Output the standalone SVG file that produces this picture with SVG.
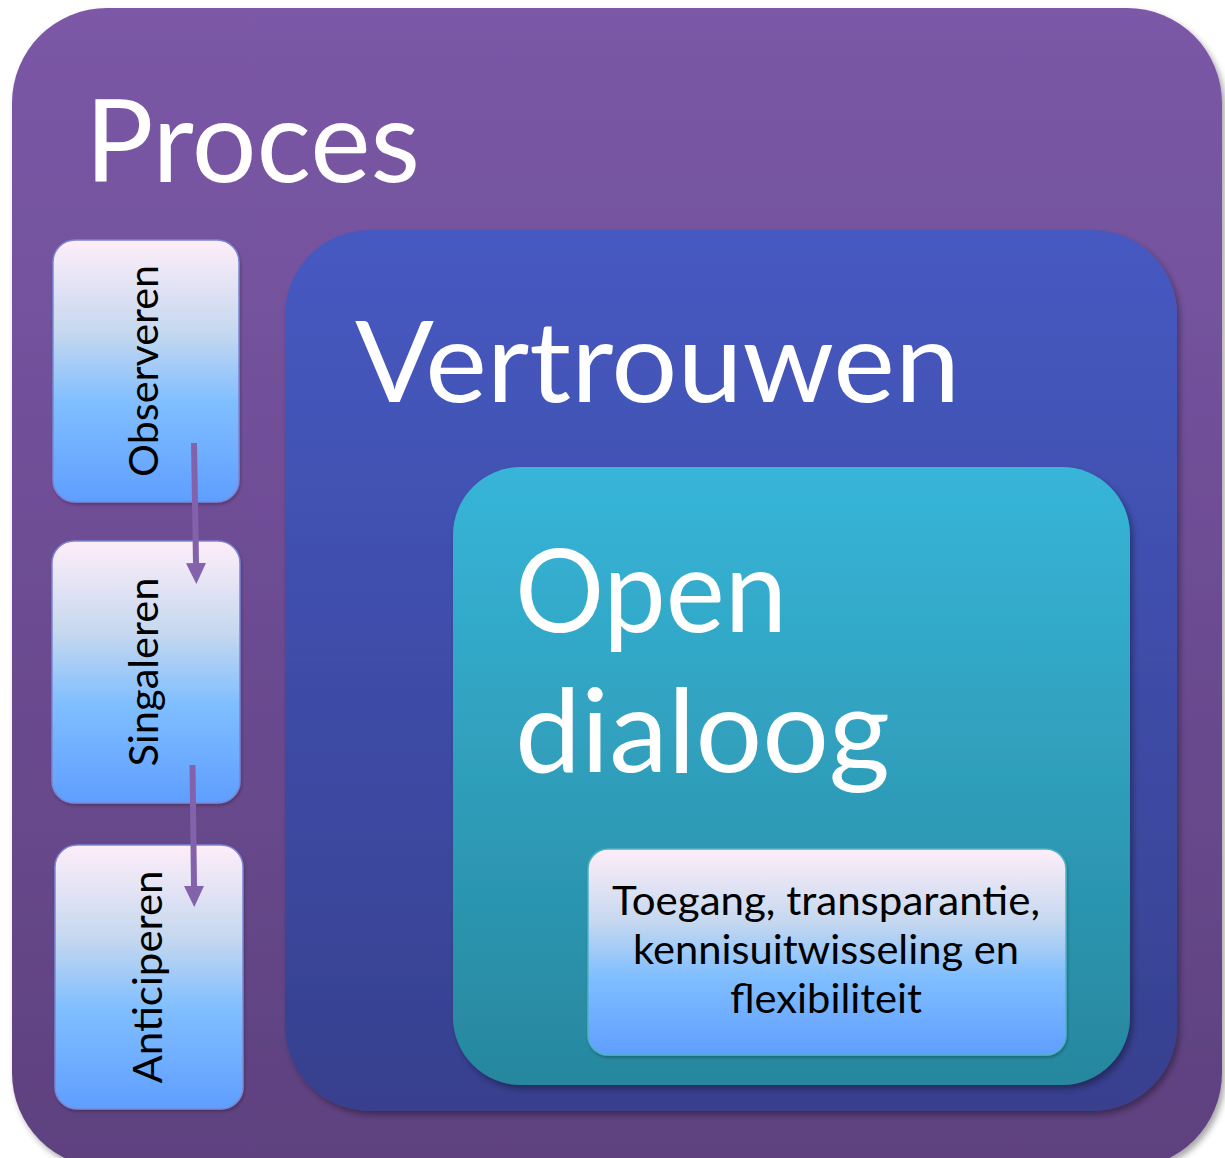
<svg xmlns="http://www.w3.org/2000/svg" width="1225" height="1158" viewBox="0 0 1225 1158">
<defs>
<linearGradient id="gOuter" x1="0" y1="0" x2="0" y2="1"><stop offset="0" stop-color="#7B58A7"/><stop offset="1" stop-color="#5E417F"/></linearGradient>
<linearGradient id="gTrust" x1="0" y1="0" x2="0" y2="1"><stop offset="0" stop-color="#4659C2"/><stop offset="1" stop-color="#37408E"/></linearGradient>
<linearGradient id="gOpen" x1="0" y1="0" x2="0" y2="1"><stop offset="0" stop-color="#37B5D8"/><stop offset="1" stop-color="#27879E"/></linearGradient>
<linearGradient id="gLight" x1="0" y1="0" x2="0" y2="1"><stop offset="0" stop-color="#FEEEF9"/><stop offset="0.35" stop-color="#C6D8EF"/><stop offset="0.62" stop-color="#80BEFF"/><stop offset="1" stop-color="#5F9EFF"/></linearGradient>
<filter id="sh" x="-5%" y="-5%" width="115%" height="115%"><feDropShadow dx="3" dy="4" stdDeviation="3" flood-color="#000" flood-opacity="0.35"/></filter>
<filter id="shs" x="-10%" y="-10%" width="130%" height="130%"><feDropShadow dx="1" dy="2" stdDeviation="1.5" flood-color="#000" flood-opacity="0.25"/></filter>
<marker id="arr" markerUnits="userSpaceOnUse" markerWidth="22" markerHeight="22" viewBox="0 0 22 22" refX="0" refY="11" orient="auto"><path d="M0 1 L21 11 L0 21 Z" fill="#8262AA"/></marker>
<style>
.big{font-family:Lato,"Open Sans","Noto Sans",sans-serif;fill:#fff}
.sm{font-family:Lato,"Open Sans","Noto Sans",sans-serif;fill:#000;font-size:40px}
.light{fill:url(#gLight);stroke:#7B86D4;stroke-width:1.5}
.conn{stroke:#8262AA;stroke-width:6;fill:none}
</style>
</defs>
<g id="proces">
<rect x="12" y="8" width="1210" height="1160" rx="95" fill="url(#gOuter)" filter="url(#sh)"/>
<text class="big" x="85" y="182" font-size="114" textLength="335" lengthAdjust="spacingAndGlyphs">Proces</text>
</g>
<g id="observeren">
<rect class="light" x="53" y="240" width="186" height="262" rx="22" filter="url(#shs)"/>
<text class="sm" transform="translate(158 371) rotate(-90)" text-anchor="middle" textLength="212" lengthAdjust="spacingAndGlyphs">Observeren</text>
</g>
<g id="singaleren">
<rect class="light" x="52" y="541" width="188" height="262" rx="22" filter="url(#shs)"/>
<text class="sm" transform="translate(158 672) rotate(-90)" text-anchor="middle" textLength="189" lengthAdjust="spacingAndGlyphs">Singaleren</text>
</g>
<g id="anticiperen">
<rect class="light" x="55" y="845" width="188" height="264" rx="22" filter="url(#shs)"/>
<text class="sm" transform="translate(162 977) rotate(-90)" text-anchor="middle" textLength="213" lengthAdjust="spacingAndGlyphs">Anticiperen</text>
</g>
<g id="vertrouwen">
<rect x="285" y="230" width="892" height="881" rx="85" fill="url(#gTrust)" filter="url(#sh)"/>
<text class="big" x="355" y="402" font-size="112" textLength="605" lengthAdjust="spacingAndGlyphs">Vertrouwen</text>
</g>
<g id="open-dialoog">
<rect x="453" y="467" width="677" height="618" rx="68" fill="url(#gOpen)" filter="url(#sh)"/>
<text class="big" x="515" y="632" font-size="117" textLength="272" lengthAdjust="spacingAndGlyphs">Open</text>
<text class="big" x="515" y="772" font-size="117" textLength="375" lengthAdjust="spacingAndGlyphs">dialoog</text>
</g>
<g id="toegang">
<rect x="588" y="849" width="478" height="206" rx="20" fill="url(#gLight)" stroke="#4FB3C8" stroke-width="1.5" filter="url(#shs)"/>
<text class="sm" x="826" y="915" text-anchor="middle" textLength="428" lengthAdjust="spacingAndGlyphs">Toegang, transparantie,</text>
<text class="sm" x="826" y="964" text-anchor="middle" textLength="386" lengthAdjust="spacingAndGlyphs">kennisuitwisseling en</text>
<text class="sm" x="826" y="1013" text-anchor="middle" textLength="192" lengthAdjust="spacingAndGlyphs">flexibiliteit</text>
</g>
<g id="connectors">
<line class="conn" x1="194" y1="443" x2="196" y2="563" marker-end="url(#arr)"/>
<line class="conn" x1="192.5" y1="765" x2="194" y2="886" marker-end="url(#arr)"/>
</g>
</svg>
